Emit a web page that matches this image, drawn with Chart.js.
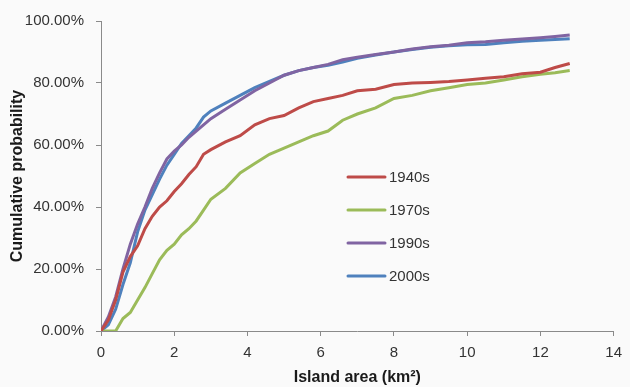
<!DOCTYPE html>
<html>
<head>
<meta charset="utf-8">
<script src="https://cdn.jsdelivr.net/npm/chart.js@4"></script>
<style>
  html, body { margin: 0; padding: 0; background: #fafafa; }
  #wrap { width: 630px; height: 387px; position: relative; }
</style>
</head>
<body>
<div id="wrap"><canvas id="c" width="630" height="387"></canvas></div>
<script>
// Island area (km²)
const xs = [0, 0.2, 0.4, 0.6, 0.8, 1.0, 1.2, 1.4, 1.6, 1.8, 2.0, 2.2, 2.4, 2.6, 2.8, 3.0, 3.4, 3.8, 4.2, 4.6, 5.0, 5.4, 5.8, 6.2, 6.6, 7.0, 7.5, 8.0, 8.5, 9.0, 9.5, 10.0, 10.5, 11.0, 11.5, 12.0, 12.4, 12.8];
// Cumulative probability (%)
const s1940 = [0, 3.5, 10, 19, 24, 27.5, 33, 37, 40, 42, 45, 47.5, 50.5, 53, 57, 58.5, 61, 63, 66.5, 68.5, 69.5, 72, 74, 75, 76, 77.5, 78, 79.5, 80, 80.2, 80.5, 81, 81.5, 82, 83, 83.5, 85, 86.3];
const s1970 = [0, 0, 0, 4, 6, 10, 14, 18.5, 23, 26, 28, 31, 33, 35.5, 39, 42.5, 46, 51, 54, 57, 59, 61, 63, 64.5, 68, 70, 72, 75, 76, 77.5, 78.5, 79.5, 80, 81, 82, 82.8, 83.3, 84];
const s1990 = [0, 4.5, 11, 20, 28, 34.5, 40, 46, 51, 55.5, 58, 60, 62.5, 64.5, 66.5, 68.5, 71.5, 74.5, 77.5, 80, 82.5, 84, 85, 86, 87.5, 88.3, 89.2, 90, 91, 91.7, 92.2, 93, 93.3, 93.8, 94.2, 94.6, 95, 95.5];
const s2000 = [0, 2, 7, 15, 22, 32, 39, 44, 49, 53.5, 57, 60.5, 63, 65.5, 69, 71, 73.5, 76, 78.5, 80.5, 82.5, 84, 85, 85.7, 86.8, 88, 89, 90, 90.8, 91.5, 92, 92.3, 92.4, 93, 93.5, 93.8, 94, 94.3];
const seriesNames = ['1940s', '1970s', '1990s', '2000s'];
const seriesColors = ['#BE4B48', '#9BBB59', '#8064A2', '#4F81BD'];
const xTicks = [0, 2, 4, 6, 8, 10, 12, 14];
const yTicks = [0, 20, 40, 60, 80, 100];

const allSeries = [s1940, s1970, s1990, s2000];
const datasets = allSeries.map((s, k) => ({
  label: seriesNames[k],
  data: xs.map((x, i) => ({ x: x, y: s[i] })),
  borderColor: seriesColors[k],
  backgroundColor: seriesColors[k],
  borderWidth: 3,
  pointRadius: 0,
  tension: 0,
  fill: false
}));

const FONT = "'Liberation Sans', Arial, sans-serif";
const axisColor = '#8a8a8a';

const innerLegend = {
  id: 'innerLegend',
  afterDatasetsDraw(chart) {
    const ctx = chart.ctx;
    const x0 = 348, len = 37, y0 = 177, gap = 33;
    ctx.save();
    ctx.font = "15px " + FONT;
    ctx.textBaseline = 'middle';
    ctx.textAlign = 'left';
    chart.data.datasets.forEach((ds, i) => {
      const y = y0 + i * gap;
      ctx.strokeStyle = ds.borderColor;
      ctx.lineWidth = 3;
      ctx.lineCap = 'round';
      ctx.beginPath();
      ctx.moveTo(x0, y);
      ctx.lineTo(x0 + len, y);
      ctx.stroke();
      ctx.fillStyle = '#333333';
      ctx.fillText(ds.label, x0 + len + 4, y + 1);
    });
    ctx.restore();
  }
};

new Chart(document.getElementById('c'), {
  type: 'line',
  data: { datasets: datasets },
  options: {
    responsive: false,
    animation: false,
    devicePixelRatio: 1,
    layout: { padding: { top: 19, right: 10, bottom: 0, left: 0 } },
    plugins: { legend: { display: false }, tooltip: { enabled: false } },
    scales: {
      x: {
        type: 'linear',
        min: 0, max: 14,
        afterBuildTicks(scale) { scale.ticks = xTicks.map(v => ({ value: v })); },
        afterFit(scale) { scale.height = 56; },
        border: { color: axisColor, width: 1 },
        grid: { drawOnChartArea: false, tickLength: 5, color: axisColor },
        ticks: { color: '#333333', font: { family: FONT, size: 15 }, padding: 8, maxRotation: 0 },
        title: { display: true, text: 'Island area (km²)', color: '#1a1a1a',
                 font: { family: FONT, size: 16, weight: 'bold' }, padding: { top: 0, bottom: 0 } }
      },
      y: {
        min: 0, max: 100,
        afterBuildTicks(scale) { scale.ticks = yTicks.map(v => ({ value: v })); },
        afterFit(scale) { scale.width = 101; },
        border: { color: axisColor, width: 1 },
        grid: { drawOnChartArea: false, tickLength: 5, color: axisColor },
        ticks: { color: '#333333', font: { family: FONT, size: 15 }, padding: 12,
                 callback: v => v.toFixed(2) + '%' },
        title: { display: true, text: 'Cumulative probability', color: '#1a1a1a',
                 font: { family: FONT, size: 16, weight: 'bold' }, padding: { top: 8, bottom: 0 } }
      }
    }
  },
  plugins: [innerLegend]
});
</script>
</body>
</html>
